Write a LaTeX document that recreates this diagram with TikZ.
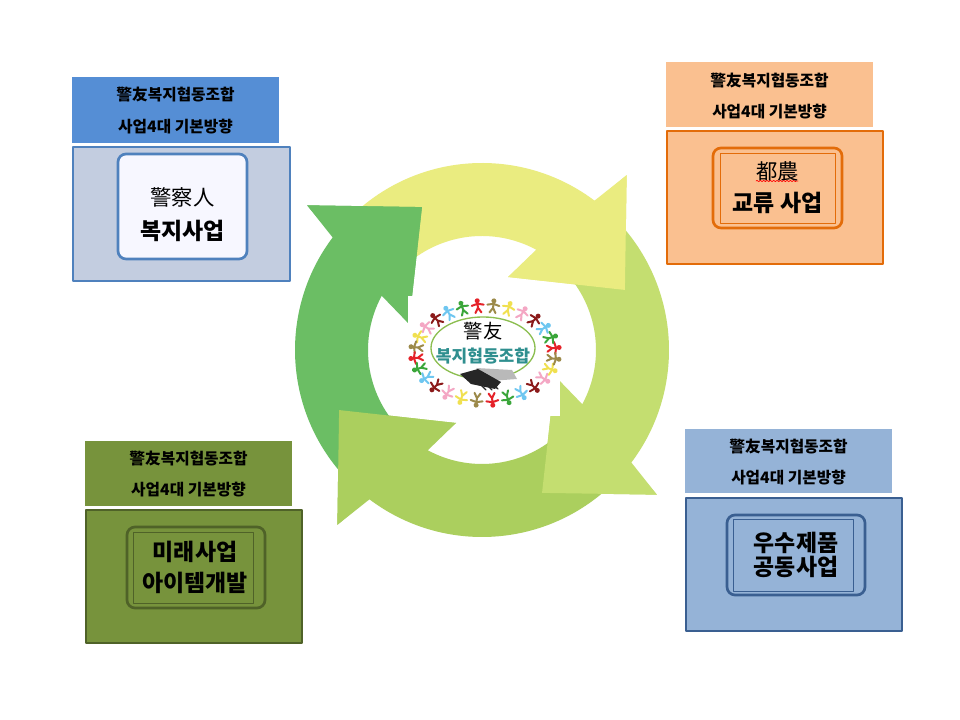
\documentclass[tikz,border=0pt]{standalone}
\usepackage{fontspec}
\setmainfont{Noto Sans CJK KR}
\usetikzlibrary{decorations.pathmorphing}
\definecolor{arrY}{HTML}{EAEC80}
\definecolor{arrL}{HTML}{C4DE70}
\definecolor{arrM}{HTML}{ABCF5E}
\definecolor{arrD}{HTML}{6BBE64}
\definecolor{hdrAfill}{HTML}{558ED5}
\definecolor{boxAfill}{HTML}{C3CDE0}
\definecolor{boxAline}{HTML}{4F81BD}
\definecolor{boxBfill}{HTML}{FAC090}
\definecolor{boxBline}{HTML}{E36C09}
\definecolor{boxCfill}{HTML}{77933C}
\definecolor{boxCline}{HTML}{4F6228}
\definecolor{boxDfill}{HTML}{95B3D7}
\definecolor{boxDline}{HTML}{3A5F91}
\definecolor{logoT}{HTML}{2F8F8F}
\definecolor{logoE}{HTML}{8CBE50}
\definecolor{ppl0}{HTML}{E52229}
\definecolor{ppl1}{HTML}{3AA63A}
\definecolor{ppl2}{HTML}{6EC6F0}
\definecolor{ppl3}{HTML}{8B1A1A}
\definecolor{ppl4}{HTML}{F4A7C4}
\definecolor{ppl5}{HTML}{F0E050}
\definecolor{ppl6}{HTML}{9C8A4A}
\begin{document}
\begin{tikzpicture}[x=.75pt,y=.75pt,line join=round,line cap=round,
	hdr/.style={align=center,font=\fontsize{11.8}{23.5}\selectfont\bfseries},
	big/.style={align=center,font=\fontsize{17.2}{23.5}\selectfont\bfseries},
	outer/.style={line width=1.9pt},
	inner/.style={line width=2pt,rounded corners=6pt}]
	\def\cx{482} \def\cy{370} % centre of the cycle
	\def\ro{187} \def\ri{114}
	\useasboundingbox[fill=white] (0,0) rectangle (960,720);
	% cycle arrows
	\foreach \rot/\col in {0/arrY,-90/arrL,-180/arrM,90/arrD}
	\fill[\col,shift={(\cx,\cy)},rotate=\rot] (131:\ro) arc[start angle=131,end angle=53,radius=\ro]
	-- (50.4:227) -- (22.8:155) -- (70.4:77.5) -- (61.6:\ri) arc[start angle=61.6,end angle=131,radius=\ri] -- cycle;
	\foreach \rot/\col in {0/arrY,-90/arrL,-180/arrM,90/arrD}
	\fill[\col,shift={(\cx,\cy)},rotate=\rot] (50.4:227) -- (22.8:155) -- (70.4:77.5) -- cycle;
	% logo
	\fill[white] (408,304) rectangle (560,424);
	\foreach \i in {0,...,27}{
		\pgfmathsetmacro\ang{\i*360/28+6}
		\pgfmathtruncatemacro\k{mod(\i,7)}
		\begin{scope}[shift={({485+69*cos(\ang)},{367+47*sin(\ang)})},rotate=\ang-90]
			\fill[ppl\k] (0,5.5) circle (2.5);
			\draw[ppl\k,line width=1.5pt] (0,3.5)--(0,-1.5) (-6,1)--(0,2.5)--(6,1) (-3,-6.5)--(0,-1.5)--(3,-6.5);
		\end{scope}
	}
	\draw[logoE,line width=1pt,fill=white] (483,372) ellipse [x radius=52,y radius=31];
	\node (logoA) at (483,389) {\fontsize{14.5}{15}\selectfont 警友};
	\node[text=logoT] (logoB) at (483,364) {\fontsize{12.8}{13}\selectfont\bfseries 복지협동조합};
	\fill[gray!55] (476,352) -- (512,350) -- (517,341) -- (490,339) -- cycle;
	\fill[black!85] (460,346) -- (478,351) -- (501,338) -- (495,331) -- (471,336) -- cycle;
	\draw[black!85,line width=1pt] (478,338)--(486,330) (484,338)--(492,330) (490,338)--(498,331);
	% box A
	\fill[hdrAfill] (72,577) rectangle (279,643);
	\node[hdr] (hdrA) at (175.5,609.5) {警友복지협동조합\\사업4대 기본방향};
	\draw[outer,boxAline,fill=boxAfill] (73,439) rectangle (290,573);
	\draw[inner,boxAline,fill=white!97!blue] (118,461) rectangle (247,566);
	\node[align=center,font=\fontsize{16}{25}\selectfont] (txtA) at (182.5,505.5) {警察人\\\fontsize{17.2}{25}\selectfont\bfseries 복지사업};
	% box B
	\fill[boxBfill] (666,593) rectangle (873,658);
	\node[hdr] (hdrB) at (769.5,624) {警友복지협동조합\\사업4대 기본방향};
	\draw[outer,boxBline,fill=boxBfill] (667,456) rectangle (883,589);
	\draw[inner,boxBline] (713,492) rectangle (842,572);
	\draw[boxBline,line width=.6pt] (720,497) rectangle (835,567);
	\node[align=center,font=\fontsize{16}{23.5}\selectfont] (txtB) at (777.5,532.5) {都農\\\fontsize{17.2}{23.5}\selectfont\bfseries 교류 사업};
	\draw[red,line width=.5pt,decorate,decoration={snake,amplitude=.5pt,segment length=2.5pt}] (756,539) -- (798,539);
	% box C
	\fill[boxCfill] (85,214) rectangle (292,279);
	\node[hdr] (hdrC) at (188.5,246) {警友복지협동조합\\사업4대 기본방향};
	\draw[outer,boxCline,fill=boxCfill] (86,77) rectangle (302,210);
	\draw[inner,boxCline] (127,112) rectangle (265,193);
	\draw[boxCline,line width=.6pt] (133,117) rectangle (253,188);
	\node[big] (txtC) at (195,152.5) {미래사업\\아이템개발};
	% box D
	\fill[boxDfill] (685,227) rectangle (892,291);
	\node[hdr] (hdrD) at (788.5,258) {警友복지협동조합\\사업4대 기본방향};
	\draw[outer,boxDline,fill=boxDfill] (686,89) rectangle (902,222);
	\draw[inner,boxDline] (727,125) rectangle (865,205);
	\draw[boxDline,line width=.6pt] (733,129) rectangle (853,201);
	\node[big,font=\fontsize{17.2}{18.5}\selectfont\bfseries] (txtD) at (796,165) {우수제품\\공동사업};
\end{tikzpicture}
\end{document}
